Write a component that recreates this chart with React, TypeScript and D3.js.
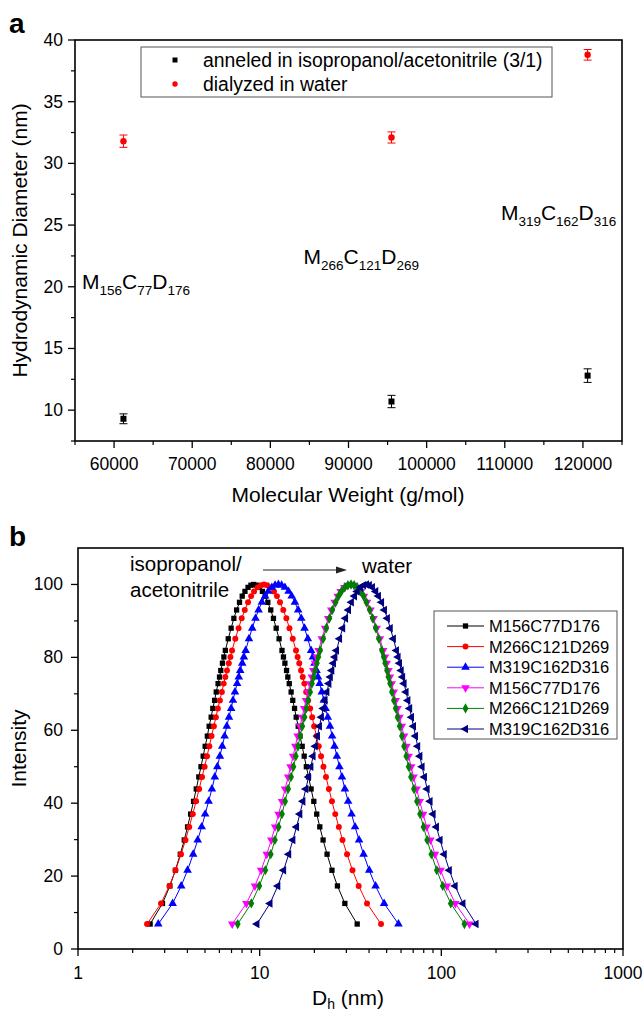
import React from 'react';
import * as d3 from 'd3';

const W = 644;
const H = 1013;
const FONT = "'Liberation Sans', Arial, Helvetica, sans-serif";

// ---------- Panel a data ----------
const molecularWeight = [61200, 95500, 120600];
const annealedDiameter = [9.3, 10.7, 12.8];
const annealedError = [0.4, 0.5, 0.55];
const dialyzedDiameter = [31.8, 32.1, 38.8];
const dialyzedError = [0.5, 0.45, 0.43];
const legendA = ['anneled in isopropanol/acetonitrile (3/1)', 'dialyzed in water'];
const blockLabels = [
  { mw: 55900, d: 19.8, parts: ['M', '156', 'C', '77', 'D', '176'] },
  { mw: 84250, d: 21.85, parts: ['M', '266', 'C', '121', 'D', '269'] },
  { mw: 109500, d: 25.4, parts: ['M', '319', 'C', '162', 'D', '316'] },
];

// ---------- Panel b data ----------
// intensity levels shared by all DLS curves (rising side; falling side mirrors them)
const intensityLevels = [6.85, 12.5, 17.3, 21.6, 26.0, 29.9, 33.5, 37.0, 40.5, 43.9, 47.2, 50.0, 52.9, 55.6, 58.4, 61.1, 63.6, 66.0, 68.2, 70.5, 72.8, 74.6, 76.4, 78.4, 80.1, 81.9, 85.1, 88.0, 90.7, 93.0, 95.1, 96.8, 98.1, 99.2, 99.8, 100];

const m156IsoLeft = [2.495, 2.917, 3.206, 3.436, 3.656, 3.846, 4.009, 4.169, 4.325, 4.477, 4.624, 4.753, 4.887, 5.012, 5.152, 5.272, 5.408, 5.521, 5.649, 5.767, 5.902, 6.012, 6.110, 6.238, 6.353, 6.472, 6.715, 6.966, 7.211, 7.465, 7.745, 8.017, 8.299, 8.630, 8.954, 9.268];
const m156IsoRight = [34.43, 29.44, 26.80, 25.00, 23.50, 22.34, 21.43, 20.61, 19.86, 19.19, 18.58, 18.07, 17.58, 17.14, 16.68, 16.30, 15.89, 15.56, 15.21, 14.90, 14.55, 14.29, 14.06, 13.77, 13.52, 13.27, 12.79, 12.33, 11.91, 11.51, 11.09, 10.72, 10.35, 9.95, 9.59];

const m266IsoLeft = [2.399, 2.864, 3.184, 3.444, 3.690, 3.908, 4.093, 4.286, 4.467, 4.645, 4.819, 4.977, 5.129, 5.284, 5.433, 5.598, 5.741, 5.888, 6.040, 6.194, 6.339, 6.472, 6.607, 6.761, 6.902, 7.047, 7.345, 7.656, 7.962, 8.280, 8.630, 8.974, 9.311, 9.750, 10.16, 10.57];
const m266IsoRight = [46.56, 38.99, 35.08, 32.44, 30.27, 28.58, 27.29, 26.06, 25.00, 24.05, 23.18, 22.44, 21.78, 21.14, 20.56, 19.95, 19.46, 18.96, 18.49, 18.03, 17.62, 17.26, 16.90, 16.52, 16.18, 15.85, 15.21, 14.59, 14.03, 13.49, 12.94, 12.45, 11.99, 11.45, 10.99];

const m319IsoLeft = [2.766, 3.319, 3.698, 4.009, 4.305, 4.560, 4.797, 5.012, 5.236, 5.458, 5.662, 5.848, 6.040, 6.222, 6.413, 6.592, 6.777, 6.966, 7.129, 7.311, 7.516, 7.674, 7.816, 8.017, 8.185, 8.375, 8.730, 9.099, 9.485, 9.863, 10.28, 10.72, 11.14, 11.67, 12.16, 12.68];
const m319IsoRight = [58.08, 48.42, 43.45, 40.09, 37.32, 35.24, 33.50, 32.06, 30.69, 29.44, 28.38, 27.48, 26.61, 25.82, 25.06, 24.38, 23.71, 23.07, 22.55, 21.98, 21.38, 20.94, 20.56, 20.04, 19.64, 19.19, 18.41, 17.66, 16.94, 16.29, 15.63, 15.00, 14.42, 13.77, 13.21];

const m156WaterLeft = [7.063, 8.453, 9.419, 10.19, 10.94, 11.59, 12.16, 12.71, 13.27, 13.80, 14.35, 14.79, 15.28, 15.71, 16.18, 16.67, 17.14, 17.58, 17.99, 18.45, 18.92, 19.37, 19.73, 20.19, 20.61, 21.09, 21.98, 22.91, 23.83, 24.78, 25.88, 26.92, 27.92, 29.24, 30.48, 31.77];
const m156WaterRight = [142.9, 119.4, 107.2, 99.08, 92.26, 87.10, 82.99, 79.43, 76.04, 73.12, 70.31, 68.24, 66.07, 64.28, 62.38, 60.54, 58.88, 57.41, 56.10, 54.70, 53.33, 52.12, 51.17, 50.00, 48.98, 47.86, 45.92, 44.06, 42.37, 40.74, 38.99, 37.50, 36.14, 34.51, 33.11];

const m266WaterLeft = [7.568, 8.995, 9.954, 10.74, 11.51, 12.13, 12.71, 13.27, 13.80, 14.35, 14.89, 15.35, 15.81, 16.26, 16.71, 17.18, 17.66, 18.07, 18.49, 18.97, 19.41, 19.82, 20.18, 20.66, 21.04, 21.53, 22.39, 23.28, 24.21, 25.12, 26.18, 27.17, 28.18, 29.44, 30.62, 31.84];
const m266WaterRight = [134.0, 112.7, 101.8, 94.41, 88.11, 83.57, 79.80, 76.39, 73.45, 70.63, 68.08, 66.07, 64.13, 62.38, 60.68, 59.02, 57.41, 56.10, 54.83, 53.46, 52.24, 51.17, 50.23, 49.09, 48.20, 47.10, 45.29, 43.55, 41.88, 40.37, 38.72, 37.32, 35.98, 34.43, 33.11];

const m319WaterLeft = [9.661, 11.40, 12.59, 13.55, 14.45, 15.24, 15.96, 16.64, 17.30, 17.95, 18.58, 19.14, 19.68, 20.23, 20.80, 21.33, 21.88, 22.39, 22.91, 23.44, 24.04, 24.49, 24.95, 25.47, 25.94, 26.49, 27.54, 28.64, 29.72, 30.83, 31.99, 33.27, 34.43, 35.89, 37.33, 38.73];
const m319WaterRight = [155.3, 131.5, 119.1, 110.7, 103.8, 98.40, 93.97, 90.16, 86.70, 83.57, 80.72, 78.34, 76.21, 74.13, 72.11, 70.31, 68.55, 66.99, 65.46, 63.97, 62.38, 61.24, 60.12, 58.88, 57.81, 56.62, 54.45, 52.36, 50.47, 48.64, 46.88, 45.08, 43.55, 41.78, 40.18];

const seriesNames = ['M156C77D176', 'M266C121D269', 'M319C162D316', 'M156C77D176', 'M266C121D269', 'M319C162D316'];
const seriesLeft = [m156IsoLeft, m266IsoLeft, m319IsoLeft, m156WaterLeft, m266WaterLeft, m319WaterLeft];
const seriesRight = [m156IsoRight, m266IsoRight, m319IsoRight, m156WaterRight, m266WaterRight, m319WaterRight];
const seriesColors = ['#000000', '#ff0000', '#0000ff', '#ff00ff', '#008000', '#000080'];
const seriesMarkers = ['square', 'circle', 'triUp', 'triDown', 'diamond', 'triLeft'];

function markerPath(kind: string): { d: string; rot: number } {
  switch (kind) {
    case 'square': return { d: d3.symbol().type(d3.symbolSquare).size(28)() as string, rot: 0 };
    case 'circle': return { d: d3.symbol().type(d3.symbolCircle).size(28)() as string, rot: 0 };
    case 'triUp': return { d: d3.symbol().type(d3.symbolTriangle).size(32)() as string, rot: 0 };
    case 'triDown': return { d: d3.symbol().type(d3.symbolTriangle).size(32)() as string, rot: 180 };
    case 'triLeft': return { d: d3.symbol().type(d3.symbolTriangle).size(32)() as string, rot: -90 };
    default: return { d: d3.symbol().type(d3.symbolDiamond).size(30)() as string, rot: 0 };
  }
}

function SubLabel({ x, y, parts, size, subSize, drop }: any) {
  return (
    <text x={x} y={y} fontFamily={FONT} fontSize={size} fill="#000">
      {parts.map((p: string, i: number) =>
        i % 2 === 1 ? (
          <tspan key={i} fontSize={subSize} dy={drop}>{p}</tspan>
        ) : (
          <tspan key={i} dy={i === 0 ? 0 : -drop}>{p}</tspan>
        )
      )}
    </text>
  );
}

export default function App() {
  // Panel a scales
  const xa = d3.scaleLinear().domain([55000, 125000]).range([75, 622]);
  const ya = d3.scaleLinear().domain([7.5, 40]).range([441, 40]);
  // Panel b scales
  const xb = d3.scaleLog().domain([1, 1000]).range([78, 623]);
  const yb = d3.scaleLinear().domain([0, 110]).range([949, 548]);

  const xaMajor = d3.range(60000, 120001, 10000);
  const xaMinor = d3.range(55000, 125001, 5000).filter((v) => v % 10000 !== 0);
  const yaMajor = d3.range(10, 40.1, 5);
  const yaMinor = d3.range(7.5, 40, 5);

  const ybMajor = d3.range(0, 100.1, 20);
  const ybMinor = d3.range(10, 100, 20);
  const xbMajor = [1, 10, 100, 1000];
  const xbMinor: number[] = [];
  [1, 10, 100].forEach((dec) => d3.range(2, 10).forEach((m) => xbMinor.push(dec * m)));

  const line = d3.line<[number, number]>().x((d) => xb(d[0])).y((d) => yb(d[1]));

  const curves = seriesLeft.map((left, si) => {
    const right = seriesRight[si];
    const pts: [number, number][] = [];
    left.forEach((dv, i) => pts.push([dv, intensityLevels[i]]));
    for (let i = right.length - 1; i >= 0; i--) pts.push([right[i], intensityLevels[i]]);
    return pts;
  });

  const axisW = 1.6;

  return (
    <svg width={W} height={H} viewBox={`0 0 ${W} ${H}`} style={{ position: 'absolute', left: 0, top: 0, background: '#fff' }}>
      <rect x={0} y={0} width={W} height={H} fill="#fff" />
      {/* ================= Panel a ================= */}
      <text x={9} y={33} fontFamily={FONT} fontSize={28} fontWeight="bold">a</text>

      {/* ticks */}
      {xaMajor.map((v) => (
        <g key={'xam' + v}>
          <line x1={xa(v)} x2={xa(v)} y1={441} y2={448} stroke="#000" strokeWidth={1.3} />
          <text x={xa(v)} y={470} textAnchor="middle" fontFamily={FONT} fontSize={17.5}>{v}</text>
        </g>
      ))}
      {xaMinor.map((v) => (
        <line key={'xan' + v} x1={xa(v)} x2={xa(v)} y1={441} y2={445} stroke="#000" strokeWidth={1.2} />
      ))}
      {yaMajor.map((v) => (
        <g key={'yam' + v}>
          <line x1={68} x2={75} y1={ya(v)} y2={ya(v)} stroke="#000" strokeWidth={1.3} />
          <text x={63} y={ya(v) + 6} textAnchor="end" fontFamily={FONT} fontSize={17.5}>{v}</text>
        </g>
      ))}
      {yaMinor.map((v) => (
        <line key={'yan' + v} x1={71} x2={75} y1={ya(v)} y2={ya(v)} stroke="#000" strokeWidth={1.2} />
      ))}

      {/* error bars + points */}
      {molecularWeight.map((mw, i) => {
        const cx = xa(mw);
        return (
          <g key={'ann' + i}>
            <line x1={cx} x2={cx} y1={ya(annealedDiameter[i] - annealedError[i])} y2={ya(annealedDiameter[i] + annealedError[i])} stroke="#000" strokeWidth={1} />
            <line x1={cx - 4} x2={cx + 4} y1={ya(annealedDiameter[i] - annealedError[i])} y2={ya(annealedDiameter[i] - annealedError[i])} stroke="#000" strokeWidth={1} />
            <line x1={cx - 4} x2={cx + 4} y1={ya(annealedDiameter[i] + annealedError[i])} y2={ya(annealedDiameter[i] + annealedError[i])} stroke="#000" strokeWidth={1} />
            <rect x={cx - 3} y={ya(annealedDiameter[i]) - 3} width={6} height={6} fill="#000" />
          </g>
        );
      })}
      {molecularWeight.map((mw, i) => {
        const cx = xa(mw);
        return (
          <g key={'dia' + i}>
            <line x1={cx} x2={cx} y1={ya(dialyzedDiameter[i] - dialyzedError[i])} y2={ya(dialyzedDiameter[i] + dialyzedError[i])} stroke="#ff0000" strokeWidth={1} />
            <line x1={cx - 4} x2={cx + 4} y1={ya(dialyzedDiameter[i] - dialyzedError[i])} y2={ya(dialyzedDiameter[i] - dialyzedError[i])} stroke="#ff0000" strokeWidth={1} />
            <line x1={cx - 4} x2={cx + 4} y1={ya(dialyzedDiameter[i] + dialyzedError[i])} y2={ya(dialyzedDiameter[i] + dialyzedError[i])} stroke="#ff0000" strokeWidth={1} />
            <circle cx={cx} cy={ya(dialyzedDiameter[i])} r={3.2} fill="#ff0000" />
          </g>
        );
      })}

      {/* block labels */}
      {blockLabels.map((b, i) => (
        <SubLabel key={'bl' + i} x={xa(b.mw)} y={ya(b.d)} parts={b.parts} size={21} subSize={13.5} drop={6} />
      ))}

      {/* legend a */}
      <rect x={141} y={47} width={411} height={50} fill="#fff" stroke="#555" strokeWidth={1} />
      <rect x={172.5} y={57.5} width={5} height={5} fill="#000" />
      <text x={203} y={66.5} fontFamily={FONT} fontSize={19.4}>{legendA[0]}</text>
      <circle cx={175} cy={84} r={2.7} fill="#ff0000" />
      <text x={203} y={90.5} fontFamily={FONT} fontSize={19.4}>{legendA[1]}</text>

      {/* frame a */}
      <rect x={75} y={40} width={547} height={401} fill="none" stroke="#000" strokeWidth={axisW} />

      {/* axis titles a */}
      <text x={348} y={502} textAnchor="middle" fontFamily={FONT} fontSize={21}>Molecular Weight (g/mol)</text>
      <text transform={`translate(27,${(40 + 441) / 2}) rotate(-90)`} textAnchor="middle" fontFamily={FONT} fontSize={21}>Hydrodynamic Diameter (nm)</text>

      {/* ================= Panel b ================= */}
      <text x={9} y={546} fontFamily={FONT} fontSize={28} fontWeight="bold">b</text>

      {ybMajor.map((v) => (
        <g key={'ybm' + v}>
          <line x1={71} x2={78} y1={yb(v)} y2={yb(v)} stroke="#000" strokeWidth={1.3} />
          <text x={63} y={yb(v) + 6} textAnchor="end" fontFamily={FONT} fontSize={17.5}>{v}</text>
        </g>
      ))}
      {ybMinor.map((v) => (
        <line key={'ybn' + v} x1={74} x2={78} y1={yb(v)} y2={yb(v)} stroke="#000" strokeWidth={1.2} />
      ))}
      {xbMajor.map((v) => (
        <g key={'xbm' + v}>
          <line x1={xb(v)} x2={xb(v)} y1={949} y2={956} stroke="#000" strokeWidth={1.3} />
          <text x={xb(v)} y={979} textAnchor="middle" fontFamily={FONT} fontSize={17.5}>{v}</text>
        </g>
      ))}
      {xbMinor.map((v) => (
        <line key={'xbn' + v} x1={xb(v)} x2={xb(v)} y1={949} y2={953} stroke="#000" strokeWidth={1.2} />
      ))}

      {/* curves */}
      {curves.map((pts, si) => {
        const mk = markerPath(seriesMarkers[si]);
        return (
          <g key={'c' + si}>
            <path d={line(pts) as string} fill="none" stroke={seriesColors[si]} strokeWidth={1} />
            {pts.map((p, j) => (
              <path key={j} d={mk.d} transform={`translate(${xb(p[0])},${yb(p[1])}) rotate(${mk.rot})`} fill={seriesColors[si]} />
            ))}
          </g>
        );
      })}

      {/* annotations b */}
      <text x={130} y={571} fontFamily={FONT} fontSize={20.5}>isopropanol/</text>
      <text x={130} y={597} fontFamily={FONT} fontSize={20.5}>acetonitrile</text>
      <line x1={263} x2={338} y1={570} y2={570} stroke="#222" strokeWidth={1} />
      <path d="M347,570 L336,566.5 L336,573.5 Z" fill="#222" />
      <text x={362} y={573} fontFamily={FONT} fontSize={20.5}>water</text>

      {/* legend b */}
      <rect x={434} y={611} width={183} height={128} fill="#fff" stroke="#555" strokeWidth={1} />
      {seriesNames.map((name, si) => {
        const cy = 626 + si * 20.6;
        const mk = markerPath(seriesMarkers[si]);
        return (
          <g key={'lg' + si}>
            <line x1={447} x2={484} y1={cy} y2={cy} stroke={seriesColors[si]} strokeWidth={1} />
            <path d={mk.d} transform={`translate(465.5,${cy}) rotate(${mk.rot})`} fill={seriesColors[si]} />
            <text x={489} y={cy + 6} fontFamily={FONT} fontSize={16.5}>{name}</text>
          </g>
        );
      })}

      {/* frame b */}
      <rect x={78} y={548} width={545} height={401} fill="none" stroke="#000" strokeWidth={axisW} />

      {/* axis titles b */}
      <text transform={`translate(26,${(548 + 949) / 2}) rotate(-90)`} textAnchor="middle" fontFamily={FONT} fontSize={21}>Intensity</text>
      <text x={348} y={1005} textAnchor="middle" fontFamily={FONT} fontSize={21}>
        <tspan>D</tspan>
        <tspan fontSize={14} dy={4}>h</tspan>
        <tspan dy={-4}> (nm)</tspan>
      </text>
    </svg>
  );
}
